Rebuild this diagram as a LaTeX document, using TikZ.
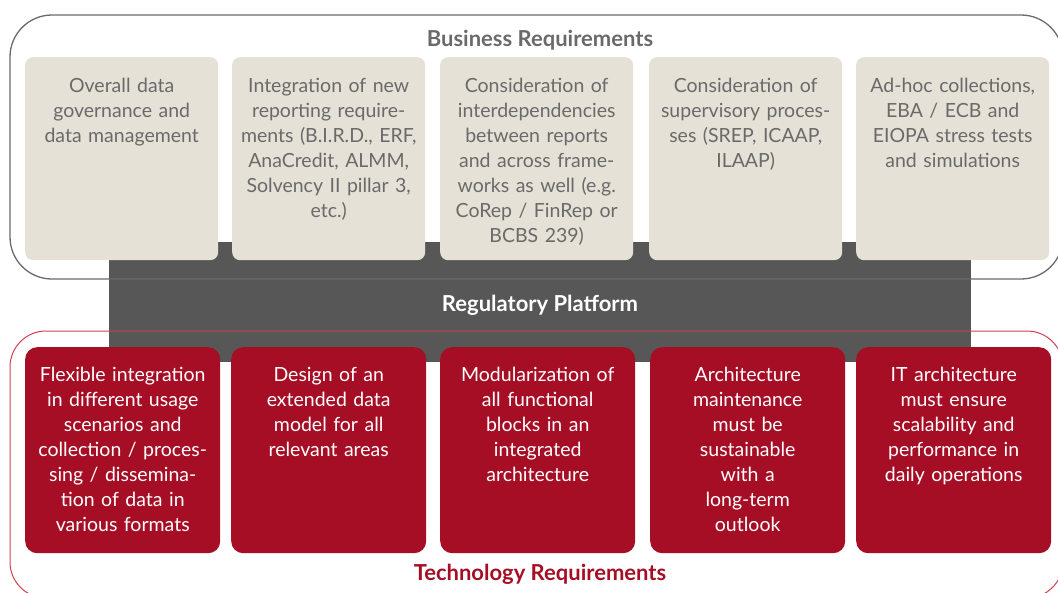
\documentclass[tikz,border=0pt]{standalone}
\usepackage{fontspec}
\setmainfont{Lato}
\usepackage{xcolor}
\usepackage{tikz}
\usetikzlibrary{positioning}

\definecolor{bizgray}{HTML}{6A6A6A}
\definecolor{beige}{HTML}{E5E1D6}
\definecolor{platgray}{HTML}{575757}
\definecolor{techred}{HTML}{A50E24}
\definecolor{lightred}{HTML}{D2404F}

\tikzset{
  bizbox/.style={fill=beige, rounded corners=8pt, minimum width=193pt, minimum height=203pt},
  techbox/.style={fill=techred, rounded corners=12pt, minimum width=195pt, minimum height=206pt},
  boxtext/.style={anchor=north, align=center, text width=190pt, inner sep=0pt, font=\fontsize{19.5}{25}\selectfont},
  titletext/.style={font=\fontsize{22}{24}\selectfont\bfseries},
}

\begin{document}
\begin{tikzpicture}[x=1pt, y=-1pt]

  \useasboundingbox (0,0) rectangle (1058,592);

  % Regulatory platform band
  \fill[platgray] (109,242) rectangle (971,362);
  \node[titletext, text=white] (platform) at (540,305) {Regulatory Platform};

  % Business frame
  \draw[bizgray, line width=1.3pt, rounded corners=42pt] (10,15) rectangle (1063,279);
  \node[titletext, text=bizgray] (biztitle) at (540,40) {Business Requirements};

  % Business boxes
  \node[bizbox, anchor=north west] (b1) at (25,57) {};
  \node[bizbox, anchor=north west] (b2) at (232,57) {};
  \node[bizbox, anchor=north west] (b3) at (440,57) {};
  \node[bizbox, anchor=north west] (b4) at (649,57) {};
  \node[bizbox, anchor=north west] (b5) at (856,57) {};

  \node[boxtext, text=bizgray] (t1) at ([yshift=-21pt]b1.north) {Overall data\\governance and\\data management};
  \node[boxtext, text=bizgray] (t2) at ([yshift=-21pt]b2.north) {Integration of new\\reporting require-\\ments (B.I.R.D., ERF,\\AnaCredit, ALMM,\\Solvency II pillar 3,\\etc.)};
  \node[boxtext, text=bizgray] (t3) at ([yshift=-21pt]b3.north) {Consideration of\\interdependencies\\between reports\\and across frame-\\works as well (e.g.\\CoRep / FinRep or\\BCBS 239)};
  \node[boxtext, text=bizgray] (t4) at ([yshift=-21pt]b4.north) {Consideration of\\supervisory proces-\\ses (SREP, ICAAP,\\ILAAP)};
  \node[boxtext, text=bizgray] (t5) at ([yshift=-21pt]b5.north) {Ad-hoc collections,\\EBA / ECB and\\EIOPA stress tests\\and simulations};

  % Technology frame
  \draw[lightred, line width=1pt, rounded corners=36pt] (10,331) rectangle (1063,598);
  \node[titletext, text=techred] (techtitle) at (540,574) {Technology Requirements};

  % Technology boxes
  \node[techbox, anchor=north west] (r1) at (25,347) {};
  \node[techbox, anchor=north west] (r2) at (231,347) {};
  \node[techbox, anchor=north west] (r3) at (440,347) {};
  \node[techbox, anchor=north west] (r4) at (650,347) {};
  \node[techbox, anchor=north west] (r5) at (856,347) {};

  \node[boxtext, text=white] (s1) at ([yshift=-20pt]r1.north) {Flexible integration\\in different usage\\scenarios and\\collection / proces-\\sing / dissemina-\\tion of data in\\various formats};
  \node[boxtext, text=white] (s2) at ([yshift=-20pt]r2.north) {Design of an\\extended data\\model for all\\relevant areas};
  \node[boxtext, text=white] (s3) at ([yshift=-20pt]r3.north) {Modularization of\\all functional\\blocks in an\\integrated\\architecture};
  \node[boxtext, text=white] (s4) at ([yshift=-20pt]r4.north) {Architecture\\maintenance\\must be\\sustainable\\with a\\long-term\\outlook};
  \node[boxtext, text=white] (s5) at ([yshift=-20pt]r5.north) {IT architecture\\must ensure\\scalability and\\performance in\\daily operations};

\end{tikzpicture}
\end{document}
